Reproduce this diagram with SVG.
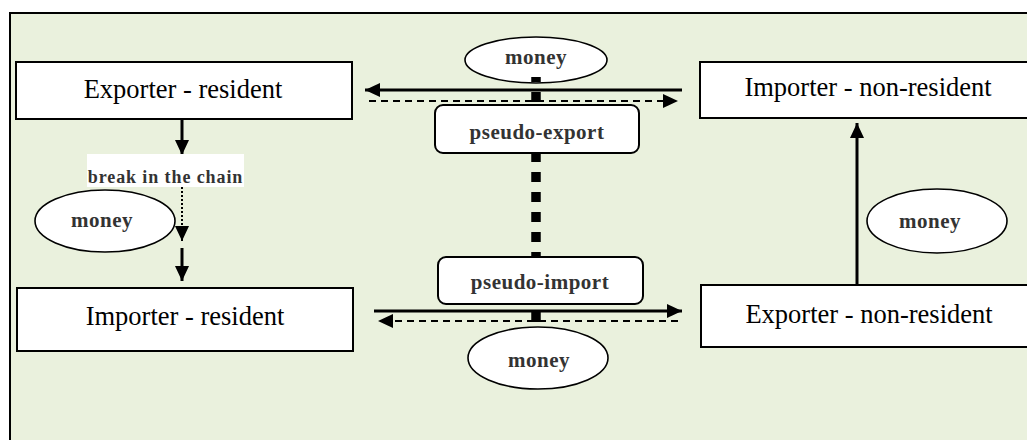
<svg xmlns="http://www.w3.org/2000/svg" width="1027" height="440" viewBox="0 0 1027 440">
<style>
.box{fill:#fff;stroke:#000;stroke-width:2}
.ell{fill:#fff;stroke:#000;stroke-width:1.6}
.t{font-family:"Liberation Serif","Times New Roman",serif;font-size:26.5px;fill:#000;text-anchor:middle}
.b{font-family:"Liberation Serif","Times New Roman",serif;font-weight:bold;font-size:21px;fill:#333;text-anchor:middle;letter-spacing:0.5px}
.sol{stroke:#000;stroke-width:3;fill:none}
.dsh{stroke:#000;stroke-width:2;fill:none;stroke-dasharray:7 5}
</style>
<defs>
<marker id="ah" markerUnits="userSpaceOnUse" markerWidth="16" markerHeight="16" viewBox="0 0 16 16" refX="15" refY="8" orient="auto">
<path d="M0,1 L15,8 L0,15 Z" fill="#000"/>
</marker>
</defs>
<rect x="0" y="0" width="1027" height="440" fill="#fff"/>
<rect x="10" y="14" width="1017" height="426" fill="#EAF1DD"/>
<path d="M10 441 V13 H1028" fill="none" stroke="#000" stroke-width="2"/>

<g id="money-top"><ellipse class="ell" cx="536" cy="60" rx="71" ry="23"/><text class="b" x="536" y="64">money</text></g>

<g id="connectors">
<line x1="536" y1="77" x2="536" y2="322" stroke="#000" stroke-width="9.5" stroke-dasharray="10 10" stroke-dashoffset="5"/>
<line class="sol" x1="682" y1="90" x2="365" y2="90" marker-end="url(#ah)"/>
<line class="dsh" x1="369" y1="101" x2="678" y2="101" marker-end="url(#ah)"/>
<line class="sol" x1="374" y1="311" x2="682" y2="311" marker-end="url(#ah)"/>
<line class="dsh" x1="678" y1="321" x2="378" y2="321" marker-end="url(#ah)"/>
<line class="sol" x1="182" y1="120" x2="182" y2="155" marker-end="url(#ah)"/>
<line x1="182" y1="187" x2="182" y2="241" stroke="#000" stroke-width="2" stroke-dasharray="2 2" marker-end="url(#ah)"/>
<line class="sol" x1="182" y1="248" x2="182" y2="281" marker-end="url(#ah)"/>
<line class="sol" x1="857" y1="285" x2="857" y2="123" marker-end="url(#ah)"/>
</g>

<g id="exporter-resident"><rect class="box" x="16" y="62" width="336" height="57"/><text class="t" x="183" y="98">Exporter - resident</text></g>
<g id="importer-resident"><rect class="box" x="17" y="288" width="336" height="63"/><text class="t" x="185" y="325">Importer - resident</text></g>
<g id="importer-nonresident"><rect class="box" x="700" y="62" width="340" height="56"/><text class="t" x="868" y="96">Importer - non-resident</text></g>
<g id="exporter-nonresident"><rect class="box" x="701" y="285" width="340" height="62"/><text class="t" x="869" y="323">Exporter - non-resident</text></g>

<g id="pseudo-export"><rect class="box" x="435" y="105" width="204" height="48" rx="8" stroke-width="1.6"/><text class="b" x="537" y="139">pseudo-export</text></g>
<g id="pseudo-import"><rect class="box" x="438" y="257" width="205" height="47" rx="8" stroke-width="1.6"/><text class="b" x="540" y="289">pseudo-import</text></g>

<g id="break"><rect x="87" y="154" width="157" height="33" fill="#fff"/><text class="b" x="165.5" y="183" style="font-size:18px;letter-spacing:0.9px">break in the chain</text></g>
<g id="money-left"><ellipse class="ell" cx="105" cy="221" rx="70" ry="31"/><text class="b" x="102" y="227">money</text></g>
<g id="money-right"><ellipse class="ell" cx="937" cy="221" rx="70" ry="32"/><text class="b" x="930" y="228">money</text></g>
<g id="money-bottom"><ellipse class="ell" cx="538" cy="358" rx="70" ry="31"/><text class="b" x="539" y="367">money</text></g>
</svg>
